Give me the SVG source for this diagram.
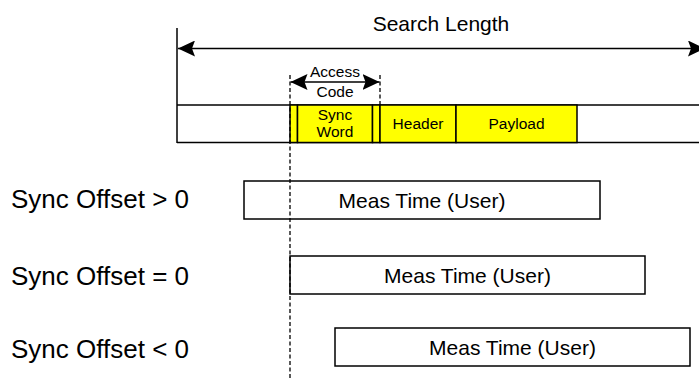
<svg xmlns="http://www.w3.org/2000/svg" width="699" height="380" viewBox="0 0 699 380">
<defs>
<style>
text{font-family:"Liberation Sans",Arial,sans-serif;fill:#000}
.lbl{font-size:26px}
.meas{font-size:21px;text-anchor:middle}
.sm{font-size:15.5px;text-anchor:middle}
.box{fill:#fff;stroke:#000;stroke-width:1.5}
.seg{fill:#ffff00;stroke:#000;stroke-width:1.5}
.ln{stroke:#000;stroke-width:1.5;fill:none}
.dash{stroke:#000;stroke-width:1.3;stroke-dasharray:4 2.5;fill:none}
</style>
<marker id="ah" viewBox="0 0 17 16" refX="17" refY="8" markerWidth="17" markerHeight="16" markerUnits="userSpaceOnUse" orient="auto-start-reverse">
<path d="M0,0 L17,8 L0,16 L3,8 Z" fill="#000"/>
</marker>
</defs>
<rect width="699" height="380" fill="#fff"/>

<g id="search-length">
<text x="441" y="31" style="font-size:21px;text-anchor:middle">Search Length</text>
</g>

<g id="frame">
<line class="ln" x1="177" y1="28" x2="177" y2="143"/>
<line class="ln" x1="177" y1="105" x2="699" y2="105"/>
<line class="ln" x1="177" y1="142.5" x2="699" y2="142.5"/>
</g>

<g id="packet">
<rect class="seg" x="290" y="105" width="7.5" height="37.5"/>
<rect class="seg" x="297.5" y="105" width="75" height="37.5"/>
<rect class="seg" x="372.5" y="105" width="7.5" height="37.5"/>
<rect class="seg" x="380" y="105" width="76" height="37.5"/>
<rect class="seg" x="456" y="105" width="121" height="37.5"/>
<text class="sm" x="335" y="120">Sync</text>
<text class="sm" x="335" y="136.5">Word</text>
<text class="sm" x="418" y="129">Header</text>
<text class="sm" x="516.5" y="129">Payload</text>
</g>

<g id="access-code">
<text class="sm" x="335" y="77">Access</text>
<text class="sm" x="335" y="96.5">Code</text>
</g>

<g id="offset-pos">
<text class="lbl" x="11" y="207.5">Sync Offset &gt; 0</text>
<rect class="box" x="244" y="181" width="356" height="38"/>
<text class="meas" x="422" y="207.5">Meas Time (User)</text>
</g>

<g id="offset-zero">
<text class="lbl" x="11" y="284.5">Sync Offset = 0</text>
<rect class="box" x="290" y="256" width="355" height="38"/>
<text class="meas" x="467.5" y="282.5">Meas Time (User)</text>
</g>

<g id="offset-neg">
<text class="lbl" x="11" y="358">Sync Offset &lt; 0</text>
<rect class="box" x="335" y="328" width="355" height="38"/>
<text class="meas" x="512.5" y="354.5">Meas Time (User)</text>
</g>

<g id="connectors">
<line class="ln" x1="178" y1="48.5" x2="705" y2="48.5" marker-start="url(#ah)" marker-end="url(#ah)"/>
<line class="ln" x1="290.5" y1="82" x2="379.5" y2="82" marker-start="url(#ah)" marker-end="url(#ah)"/>
<line class="dash" x1="290" y1="75" x2="290" y2="380"/>
<line class="dash" x1="380" y1="75" x2="380" y2="105"/>
</g>
</svg>
